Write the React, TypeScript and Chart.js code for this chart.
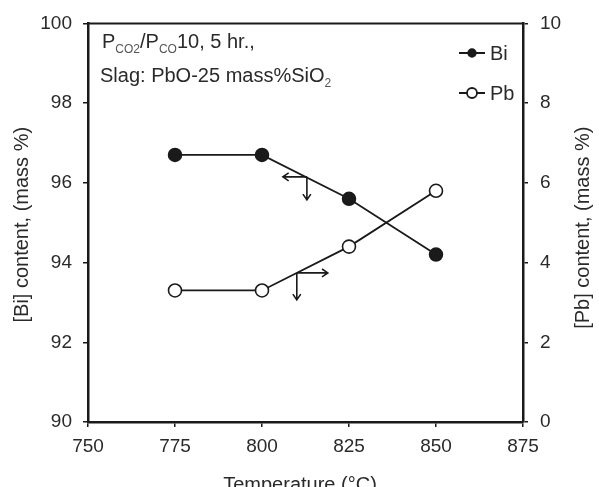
import { useEffect, useRef } from "react";
import { Chart, registerables } from "chart.js";

Chart.register(...registerables);

// Furnace temperature (°C) and metal composition (mass %)
const temperatures = [775, 800, 825, 850];
const biContent = [96.7, 96.7, 95.6, 94.2];
const pbContent = [3.3, 3.3, 4.4, 5.8];

// Axis ranges / tick labels
const xTicks = [750, 775, 800, 825, 850, 875];
const biTicks = [90, 92, 94, 96, 98, 100];
const pbTicks = [0, 2, 4, 6, 8, 10];

// Arrows pointing each curve to its axis: anchor [temperature, value]
const biArrowAt = [812.9, 96.15];
const pbArrowAt = [810, 3.74];

const FONT = "'Liberation Sans', Arial, sans-serif";
const INK = "#1a1a1a";
const TEXT = "#2a2a2a";

type Run = { text: string; sub?: boolean };

function drawRuns(ctx: CanvasRenderingContext2D, x: number, y: number, runs: Run[]) {
  let cx = x;
  for (const r of runs) {
    if (r.sub) {
      ctx.font = `12px ${FONT}`;
      ctx.fillStyle = "#555";
      ctx.fillText(r.text, cx, y + 5);
    } else {
      ctx.font = `20px ${FONT}`;
      ctx.fillStyle = TEXT;
      ctx.fillText(r.text, cx, y);
    }
    cx += ctx.measureText(r.text).width;
  }
}

function arrow(ctx: CanvasRenderingContext2D, x0: number, y0: number, x1: number, y1: number) {
  const ang = Math.atan2(y1 - y0, x1 - x0);
  const h = 7;
  ctx.beginPath();
  ctx.moveTo(x0, y0);
  ctx.lineTo(x1, y1);
  ctx.moveTo(x1 - h * Math.cos(ang - 0.6), y1 - h * Math.sin(ang - 0.6));
  ctx.lineTo(x1, y1);
  ctx.lineTo(x1 - h * Math.cos(ang + 0.6), y1 - h * Math.sin(ang + 0.6));
  ctx.stroke();
}

const decorations = {
  id: "decorations",
  afterDraw(chart: any) {
    const { ctx, chartArea: a, scales } = chart;
    ctx.save();

    // top frame line
    ctx.strokeStyle = INK;
    ctx.lineWidth = 2;
    ctx.beginPath();
    ctx.moveTo(a.left, a.top);
    ctx.lineTo(a.right, a.top);
    ctx.stroke();

    // condition notes
    ctx.textBaseline = "alphabetic";
    ctx.textAlign = "left";
    drawRuns(ctx, a.left + 14, 48, [
      { text: "P" },
      { text: "CO2", sub: true },
      { text: "/P" },
      { text: "CO", sub: true },
      { text: "10, 5 hr.," },
    ]);
    drawRuns(ctx, a.left + 12, 82, [
      { text: "Slag: PbO-25 mass%SiO" },
      { text: "2", sub: true },
    ]);

    // legend
    const lx = 472;
    const rows = [
      { y: 53, label: "Bi", filled: true, r: 3.8 },
      { y: 93, label: "Pb", filled: false, r: 5 },
    ];
    ctx.strokeStyle = INK;
    ctx.lineWidth = 1.8;
    for (const row of rows) {
      ctx.beginPath();
      ctx.moveTo(lx - 13, row.y);
      ctx.lineTo(lx - row.r, row.y);
      ctx.moveTo(lx + row.r, row.y);
      ctx.lineTo(lx + 13, row.y);
      ctx.stroke();
      ctx.beginPath();
      ctx.arc(lx, row.y, row.r, 0, Math.PI * 2);
      ctx.fillStyle = row.filled ? INK : "#fff";
      ctx.fill();
      ctx.stroke();
      ctx.font = `20px ${FONT}`;
      ctx.fillStyle = TEXT;
      ctx.textBaseline = "middle";
      ctx.fillText(row.label, lx + 18, row.y + 1);
    }

    // axis-pointer arrows
    ctx.lineWidth = 1.6;
    ctx.strokeStyle = INK;
    const bx = scales.x.getPixelForValue(biArrowAt[0]);
    const by = scales.y.getPixelForValue(biArrowAt[1]);
    arrow(ctx, bx, by, bx - 24, by);
    arrow(ctx, bx, by, bx, by + 23);
    const px = scales.x.getPixelForValue(pbArrowAt[0]);
    const py = scales.y2.getPixelForValue(pbArrowAt[1]);
    arrow(ctx, px, py, px + 31, py);
    arrow(ctx, px, py, px, py + 27);

    // axis titles
    ctx.font = `20px ${FONT}`;
    ctx.fillStyle = TEXT;
    ctx.textAlign = "center";
    ctx.textBaseline = "middle";
    const midY = (a.top + a.bottom) / 2 + 2;
    ctx.save();
    ctx.translate(22, midY);
    ctx.rotate(-Math.PI / 2);
    ctx.fillText("[Bi] content, (mass %)", 0, 0);
    ctx.restore();
    ctx.save();
    ctx.translate(583, midY + 3);
    ctx.rotate(-Math.PI / 2);
    ctx.fillText("[Pb] content, (mass %)", 0, 0);
    ctx.restore();
    ctx.textBaseline = "alphabetic";
    ctx.fillText("Temperature (°C)", 300, 491);

    ctx.restore();
  },
};

export default function App() {
  const ref = useRef<HTMLCanvasElement | null>(null);

  useEffect(() => {
    document.body.style.margin = "0";
    const canvas = ref.current;
    if (!canvas) return;

    const tickFont = { family: FONT, size: 19 };
    const axisGrid = {
      display: true,
      drawOnChartArea: false,
      drawTicks: true,
      tickLength: 5,
      color: INK,
      lineWidth: 1.5,
    };
    const axisBorder = { display: true, color: INK, width: 2.5 };

    const chart = new Chart(canvas, {
      type: "line",
      data: {
        datasets: [
          {
            label: "Bi",
            data: temperatures.map((t, i) => ({ x: t, y: biContent[i] })),
            yAxisID: "y",
            borderColor: INK,
            borderWidth: 1.8,
            pointRadius: 6.5,
            pointBorderWidth: 1.5,
            pointBackgroundColor: INK,
            pointBorderColor: INK,
            tension: 0,
          },
          {
            label: "Pb",
            data: temperatures.map((t, i) => ({ x: t, y: pbContent[i] })),
            yAxisID: "y2",
            borderColor: INK,
            borderWidth: 1.8,
            pointRadius: 6.5,
            pointBorderWidth: 1.6,
            pointBackgroundColor: "#fff",
            pointBorderColor: INK,
            tension: 0,
          },
        ],
      },
      options: {
        animation: false,
        responsive: false,
        devicePixelRatio: 1,
        layout: { padding: { top: 20, left: 0, right: 0, bottom: 0 } },
        plugins: { legend: { display: false }, tooltip: { enabled: false } },
        scales: {
          x: {
            type: "linear",
            min: xTicks[0],
            max: xTicks[xTicks.length - 1],
            afterFit: (s: any) => {
              s.height = 65;
            },
            afterBuildTicks: (s: any) => {
              s.ticks = xTicks.map((v) => ({ value: v }));
            },
            ticks: { font: tickFont, color: TEXT, padding: 8, maxRotation: 0 },
            grid: axisGrid,
            border: axisBorder,
          },
          y: {
            type: "linear",
            position: "left",
            min: biTicks[0],
            max: biTicks[biTicks.length - 1],
            afterFit: (s: any) => {
              s.width = 88;
            },
            afterBuildTicks: (s: any) => {
              s.ticks = biTicks.map((v) => ({ value: v }));
            },
            ticks: { font: tickFont, color: TEXT, padding: 11 },
            grid: axisGrid,
            border: axisBorder,
          },
          y2: {
            type: "linear",
            position: "right",
            min: pbTicks[0],
            max: pbTicks[pbTicks.length - 1],
            afterFit: (s: any) => {
              s.width = 76;
            },
            afterBuildTicks: (s: any) => {
              s.ticks = pbTicks.map((v) => ({ value: v }));
            },
            ticks: { font: tickFont, color: TEXT, padding: 12 },
            grid: axisGrid,
            border: axisBorder,
          },
        },
      },
      plugins: [decorations],
    });

    return () => chart.destroy();
  }, []);

  return <canvas ref={ref} width={599} height={487} style={{ display: "block" }} />;
}
